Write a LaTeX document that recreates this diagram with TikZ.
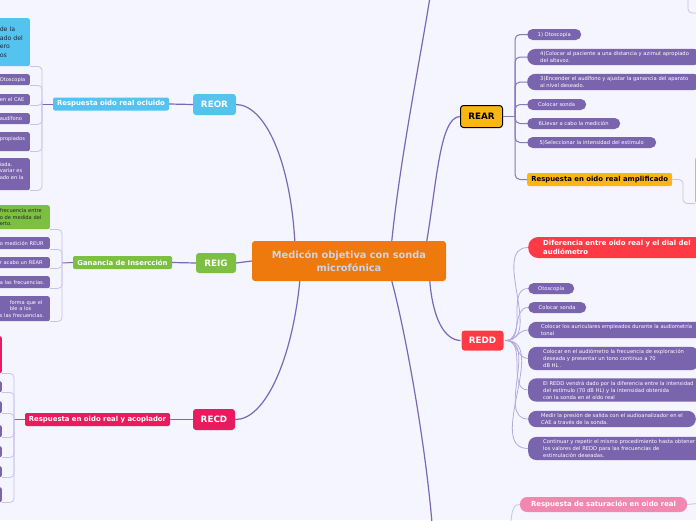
\documentclass[tikz,border=0pt]{standalone}
\usepackage{fontspec}
\setmainfont{DejaVu Sans}
\usepackage{xcolor}
\usetikzlibrary{calc,positioning}

\definecolor{pagebg}{HTML}{F4F5FE}
\definecolor{hubfill}{HTML}{EE7A0E}
\definecolor{hubtext}{HTML}{C8D5EC}
\definecolor{linkcol}{HTML}{7A68B6}
\definecolor{trunkcol}{HTML}{8877C3}
\definecolor{bracketcol}{HTML}{C9C2EA}
\definecolor{fancol}{HTML}{B5A9E0}
\definecolor{leaffill}{HTML}{7A64AD}
\definecolor{reorblue}{HTML}{55C3F0}
\definecolor{reiggreen}{HTML}{7CBF41}
\definecolor{recdpink}{HTML}{E81B5E}
\definecolor{rearyellow}{HTML}{FBB515}
\definecolor{reddred}{HTML}{FF3A47}
\definecolor{saturpink}{HTML}{F487AF}
\definecolor{darktext}{HTML}{1E2530}

\tikzset{
	hub/.style={fill=hubfill, text=hubtext, rounded corners=3pt, align=center,
		minimum width=194pt, minimum height=40pt, inner sep=0pt,
		font=\fontsize{9.8}{13}\selectfont\bfseries},
	topic/.style={rounded corners=3pt, text=white, minimum height=21pt,
		inner sep=0pt, font=\fontsize{8.8}{10}\selectfont\bfseries},
	subtopic/.style={rounded corners=2pt, text=white, minimum height=13pt,
		inner sep=0pt, font=\fontsize{6.9}{8}\selectfont\bfseries},
	leafbox/.style={fill=leaffill, rounded corners=2pt, text=white, align=left,
		anchor=north east, inner ysep=0pt, inner xsep=3pt,
		font=\fontsize{5.1}{6.5}\selectfont},
	pill/.style={fill=leaffill, rounded corners=5.5pt, text=white, align=left,
		anchor=west, inner ysep=0pt, inner xsep=0pt, minimum height=11pt,
		font=\fontsize{5.2}{7}\selectfont},
	longpill/.style={pill, inner xsep=13pt, inner ysep=2.5pt, rounded corners=8pt},
	link/.style={draw=linkcol, line width=1.2pt},
	trunk/.style={draw=trunkcol, line width=1pt, rounded corners=5pt},
	bracket/.style={draw=bracketcol, line width=0.8pt, rounded corners=4pt},
	fan/.style={draw=fancol, line width=0.8pt},
}

\begin{document}
\begin{tikzpicture}[x=1pt, y=-1pt]
	\useasboundingbox (0,0) rectangle (696,520);
	\clip (0,0) rectangle (696,520);
	\fill[pagebg] (0,0) rectangle (696,520);

	% Central topic
	\node[hub] (core) at (349,261) {Medicón objetiva con sonda\\microfónica};

	% Main topics
	\node[topic, fill=reorblue, minimum width=43pt] (reor) at (214.5,104.5) {REOR};
	\node[topic, fill=reiggreen, minimum width=40pt, minimum height=20pt] (reig) at (216,263) {REIG};
	\node[topic, fill=recdpink, minimum width=42pt] (recd) at (214,419.5) {RECD};
	\node[topic, fill=rearyellow, draw=black, line width=1pt, text=black,
		minimum width=42pt, minimum height=22pt] (rear) at (481.5,116.5) {REAR};
	\node[topic, fill=reddred, draw=white, line width=1pt, minimum width=43pt] (redd) at (482.5,340.5) {REDD};

	% Links from the central topic
	\coordinate (topleave) at (430,-3);
	\coordinate (botleave) at (432,523);
	\draw[link] ($(core.north west)+(43,0)$) .. controls (290,160) and (265,105) .. (reor.east);
	\draw[link] (core.west) -- (reig.east);
	\draw[link] ($(core.south west)+(48,0)$) .. controls (292,360) and (265,420) .. (recd.east);
	\draw[link] ($(core.north west)+(175,0)$) .. controls (437,180) and (440,117) .. (rear.west);
	\draw[link] ($(core.north west)+(140,0)$) .. controls (400,160) and (420,60) .. (topleave);
	\draw[link] ($(core.south west)+(178,0)$) .. controls (433,320) and (445,340) .. (redd.west);
	\draw[link] ($(core.south west)+(140,0)$) .. controls (405,330) and (425,440) .. (botleave);

	% REOR branch
	\node[subtopic, fill=reorblue, minimum width=116pt] (reorsub) at (111,104) {Respuesta oido real ocluido};
	\coordinate (reorjn) at (42,104);
	\draw[link] (reor.west) -- (reorsub.east);
	\draw[link, line width=1pt] (reorsub.west) -- (reorjn);
	\node[leafbox, fill=reorblue, text=darktext, text width=27pt, minimum height=48pt,
		font=\fontsize{6.2}{8.5}\selectfont] (reordef) at (30,18) {de la\\ado del\\ero\\os};
	\node[leafbox, text width=27pt, minimum height=11pt] (reor1) at (30,74) {Otoscopía};
	\node[leafbox, text width=27pt, minimum height=11pt] (reor2) at (30,94) {en el CAE};
	\node[leafbox, text width=27pt, minimum height=11pt] (reor3) at (30,113) {audífono};
	\node[leafbox, text width=27pt, minimum height=19pt] (reor4) at (30,132) {propiados\\\mbox{}};
	\node[leafbox, text width=27pt, minimum height=32pt] (reor5) at (30,158) {iada.\\variar es\\ado en la\\\mbox{}};
	\foreach \leaf in {reordef,reor1,reor2,reor3,reor4,reor5}
		\draw[bracket] (reorjn) |- (\leaf.south east);

	% REIG branch
	\node[subtopic, fill=reiggreen, minimum width=99pt] (reigsub) at (122.5,262.5) {Ganancia de Insercción};
	\coordinate (reigjn) at (62,263);
	\draw[link] (reig.west) -- (reigsub.east);
	\draw[link, line width=1pt] (reigsub.west) -- (reigjn);
	\node[leafbox, fill=reiggreen, text=darktext, text width=47pt, minimum height=24pt] (reigdef) at (50,205)
		{frecuencia entre\\o de medida del\\erto.};
	\node[leafbox, text width=47pt, minimum height=12pt] (reig1) at (50,237) {o medición REUR};
	\node[leafbox, text width=47pt, minimum height=11pt] (reig2) at (50,257) {r acabo un REAR};
	\node[leafbox, text width=47pt, minimum height=12pt] (reig3) at (50,276) {a las frecuencias.};
	\node[leafbox, text width=47pt, minimum height=25pt] (reig4) at (50,296)
		{\hspace*{10pt}forma que el\\\hspace*{10pt}ble a los\\s las frecuencias.};
	\foreach \leaf in {reigdef,reig1,reig2,reig3,reig4}
		\draw[bracket] (reigjn) |- (\leaf.south east);

	% RECD branch
	\node[subtopic, fill=recdpink, minimum width=145pt] (recdsub) at (97.5,419.5) {Respuesta en oido real y acoplador};
	\coordinate (recdjn) at (14,419.5);
	\draw[link] (recd.west) -- (recdsub.east);
	\draw[link, line width=1pt] (recdsub.west) -- (recdjn);
	\node[leafbox, fill=recdpink, minimum width=12pt, minimum height=37pt] (recddef) at (2,336) {};
	\node[leafbox, minimum width=12pt, minimum height=11pt] (recd1) at (2,381) {};
	\node[leafbox, minimum width=12pt, minimum height=12pt] (recd2) at (2,401) {};
	\node[leafbox, minimum width=12pt, minimum height=12pt] (recd3) at (2,425) {};
	\node[leafbox, minimum width=12pt, minimum height=11pt] (recd4) at (2,446) {};
	\node[leafbox, minimum width=12pt, minimum height=11pt] (recd5) at (2,466) {};
	\node[leafbox, minimum width=12pt, minimum height=15pt] (recd6) at (2,487) {};
	\foreach \leaf in {recddef,recd1,recd2,recd3,recd4,recd5,recd6}
		\draw[bracket] (recdjn) |- (\leaf.south east);

	% REAR branch
	\coordinate (rearjn) at (515,116.5);
	\draw[trunk] (rear.east) -- (rearjn);
	\node[pill, minimum width=54pt] (rear1) at (527,34.5) {1) Otoscopía};
	\node[longpill] (rear2) at (527,57) {4)Colocar al paciente a una distancia y azimut apropiado\\del altavoz.};
	\node[longpill] (rear3) at (527,82) {3)Encender el audífono y ajustar la ganancia del aparato\\al nivel deseado.};
	\node[pill, minimum width=59pt] (rear4) at (527,104.5) {Colocar sonda};
	\node[pill, minimum width=93pt] (rear5) at (527,123.5) {6Llevar a cabo la medición};
	\node[pill, minimum width=129pt] (rear6) at (527,142.5) {5)Seleccionar la intensidad del estímulo};
	\node[subtopic, fill=rearyellow, text=black, anchor=west, minimum width=145pt] (rearsub) at (527,179.5)
		{Respuesta en oido real amplificado};
	\foreach \leaf in {rear1,rear2,rear3,rear4,rear5,rear6,rearsub}
		\draw[trunk] (rearjn) |- (\leaf.west);

	% Child of the amplified response
	\coordinate (ampjn) at (683,179.5);
	\node[fill=rearyellow, rounded corners=2pt, anchor=north west, minimum width=30pt,
		minimum height=46pt, inner sep=0pt] (ampnote) at (695,157) {};
	\draw[bracket] (rearsub.east) -- (ampjn) |- (ampnote.south west);

	% Branch leaving at the top edge
	\coordinate (topjn) at (688,-5);
	\coordinate (topleaf) at (702,13);
	\draw[bracket] (topjn) |- (topleaf);

	% REDD branch
	\coordinate (reddjn) at (506,340.5);
	\node[longpill, fill=reddred, inner xsep=15pt, rounded corners=10pt, minimum height=21pt,
		font=\fontsize{6.9}{9}\selectfont\bfseries] (redddef) at (528,247.5)
		{Diferencia entre oido real y el dial del\\audiómetro};
	\node[pill, minimum width=46pt] (redd1) at (528,288.5) {Otoscopía};
	\node[pill, minimum width=58pt] (redd2) at (528,307.5) {Colocar sonda};
	\node[longpill] (redd3) at (528,330) {Colocar los auriculares empleados durante la audiometría\\tonal};
	\node[longpill, inner xsep=15pt] (redd4) at (528,358.5)
		{Colocar en el audiómetro la frecuencia de exploración\\deseada  y presentar un tono continuo a 70\\dB HL .};
	\node[longpill, inner xsep=15pt] (redd5) at (528,390)
		{El REDD vendrá dado por la diferencia entre la intensidad\\del estímulo (70 dB HL) y la intensidad obtenida\\con la sonda en el oído real};
	\node[longpill] (redd6) at (528,419)
		{Medir la presión de salida con el audioanalizador en el\\CAE a través de la sonda.};
	\node[longpill, inner xsep=15pt] (redd7) at (528,448.5)
		{Continuar y repetir el mismo procedimiento hasta obtener\\los valores del REDD para las frecuencias de\\estimulación deseadas.};
	\draw[trunk, rounded corners=0pt] (redd.east) -- (reddjn);
	\foreach \leaf in {redddef,redd1,redd2,redd3,redd4,redd5,redd6,redd7}
		\draw[fan] (reddjn) to[out=0, in=180] (\leaf.west);

	% Saturation branch
	\node[subtopic, fill=saturpink, rounded corners=7pt, minimum width=167pt, minimum height=15pt] (satur)
		at (603.5,504.5) {Respuesta de saturación en oido real};
	\coordinate (saturjn) at (510,526);
	\coordinate (saturleaf) at (702,503);
	\draw[bracket] (satur.west) to[out=180, in=75] (saturjn);
	\draw[bracket] (satur.east) -- (saturleaf);
\end{tikzpicture}
\end{document}
